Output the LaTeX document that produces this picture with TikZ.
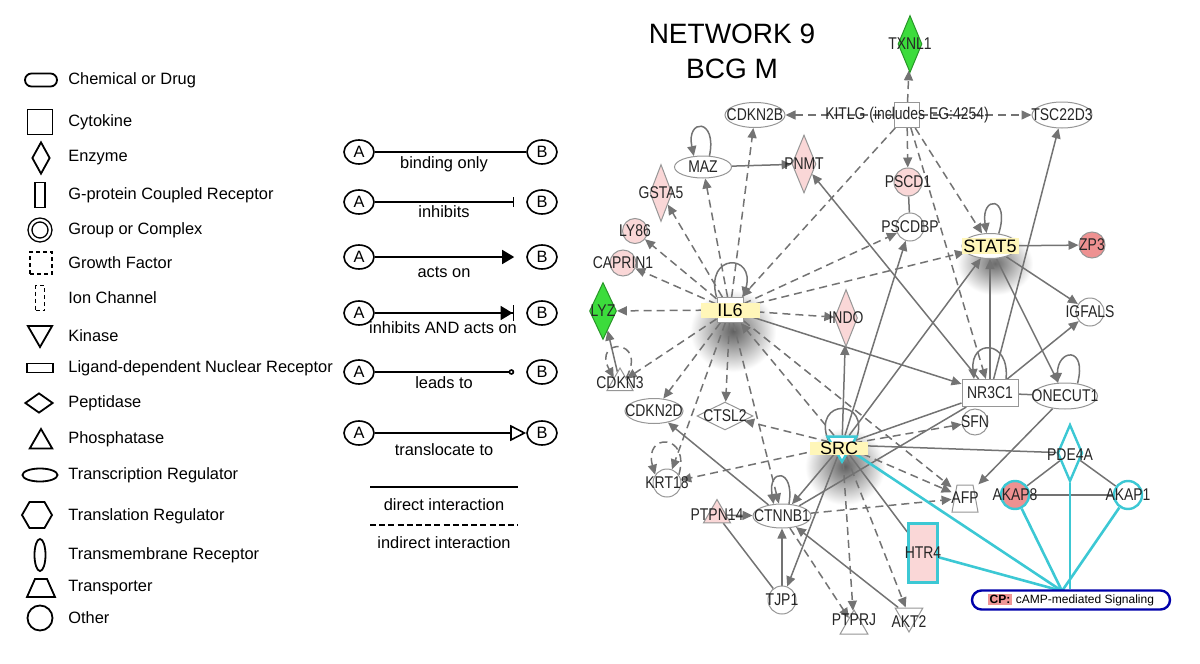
\documentclass[tikz,border=0pt]{standalone}
\usepackage{fontspec}
\setmainfont{Liberation Sans}
\newfontfamily\netfont[FakeStretch=0.82]{Liberation Sans}
\usepackage{tikz}
\usetikzlibrary{shapes.geometric}
\usetikzlibrary{shapes.misc}
\usetikzlibrary{arrows.meta}
\usetikzlibrary{backgrounds}

\definecolor{edgegray}{RGB}{115,115,115}
\definecolor{nodegray}{RGB}{150,150,150}
\definecolor{pinkfill}{RGB}{250,215,215}
\definecolor{redfill}{RGB}{238,145,145}
\definecolor{greenfill}{RGB}{60,220,60}
\definecolor{greenline}{RGB}{40,150,40}
\definecolor{hlyellow}{RGB}{255,246,185}
\definecolor{cpcyan}{RGB}{60,200,212}
\definecolor{cpnavy}{RGB}{0,0,170}
\definecolor{cppink}{RGB}{240,150,150}

\newcommand{\netlbl}{\netfont\fontsize{8.5}{10}\selectfont}
\newcommand{\hllbl}{\fontsize{9}{10}\selectfont}
\newcommand{\keyfont}{\fontsize{8.2}{10}\selectfont}

\tikzstyle{gene} = [draw=nodegray, line width=0.5pt, fill=white, inner sep=0pt]
\tikzstyle{kinase} = [gene, regular polygon, regular polygon sides=3, shape border rotate=180]
\tikzstyle{phos} = [gene, regular polygon, regular polygon sides=3]
\tikzstyle{ind} = [draw=edgegray, line width=0.75pt, dash pattern=on 4pt off 2.5pt, -{Triangle[length=5pt,width=4.5pt]}]
\tikzstyle{dir} = [draw=edgegray, line width=0.75pt, -{Triangle[length=5pt,width=4.5pt]}]
\tikzstyle{bnd} = [draw=edgegray, line width=0.75pt]
\tikzstyle{cpl} = [draw=cpcyan, line width=1.3pt]
\tikzstyle{key} = [draw, line width=0.9pt, inner sep=0pt]
\tikzstyle{keytxt} = [anchor=west, font=\keyfont, inner sep=0pt]
\tikzstyle{ab} = [draw, ellipse, line width=0.8pt, minimum width=15pt, minimum height=12pt, inner sep=0pt, font=\keyfont]
\tikzstyle{kline} = [line width=0.8pt]

\begin{document}
\begin{tikzpicture}[x=0.5pt, y=-0.5pt, every label/.style={font=\netlbl, text=black!85, inner sep=0pt}]
				%\draw[help lines,step=50] (0,0) grid (1200,664);
				\useasboundingbox (0,0) rectangle (1200,664);

				% node types
				\node[key, rounded rectangle, minimum width=16pt, minimum height=6.5pt] (kChem) at (41,80) {};
				\node[keytxt] (tChem) at (68,80) {Chemical or Drug};
				\node[key, minimum width=12.5pt, minimum height=12.5pt] (kCyto) at (40,122) {};
				\node[keytxt] (tCyto) at (68,122) {Cytokine};
				\node[key, diamond, minimum width=9pt, minimum height=16pt] (kEnz) at (41,158) {};
				\node[keytxt] (tEnz) at (68,158) {Enzyme};
				\node[key, minimum width=5pt, minimum height=12.5pt] (kGpcr) at (40,195) {};
				\node[keytxt] (tGpcr) at (68,195) {G-protein Coupled Receptor};
				\node[key, circle, double, line width=0.7pt, double distance=1.2pt, minimum size=10pt] (kGroup) at (40,230) {};
				\node[keytxt] (tGroup) at (68,230) {Group or Complex};
				\node[key, dash pattern=on 2pt off 1.5pt, minimum size=11pt] (kGrowth) at (41,263) {};
				\node[keytxt] (tGrowth) at (68,263) {Growth Factor};
				\node[key, dash pattern=on 2pt off 1.5pt, minimum width=4.5pt, minimum height=12.5pt] (kIon) at (40,298) {};
				\node[keytxt] (tIon) at (68,298) {Ion Channel};
				\node[key, regular polygon, regular polygon sides=3, shape border rotate=180, minimum size=14pt] (kKin) at (40,333) {};
				\node[keytxt] (tKin) at (68,336) {Kinase};
				\node[key, minimum width=13pt, minimum height=4.5pt] (kLig) at (40,368) {};
				\node[keytxt] (tLig) at (68,368) {Ligand-dependent Nuclear Receptor};
				\node[key, diamond, minimum width=14pt, minimum height=10pt] (kPep) at (39,403) {};
				\node[keytxt] (tPep) at (68,403) {Peptidase};
				\node[key, regular polygon, regular polygon sides=3, minimum size=13pt] (kPhos) at (41,442) {};
				\node[keytxt] (tPhos) at (68,439) {Phosphatase};
				\node[key, ellipse, minimum width=17.5pt, minimum height=6.5pt] (kTrans) at (40,475) {};
				\node[keytxt] (tTrans) at (68,475) {Transcription Regulator};
				\node[key, regular polygon, regular polygon sides=6, minimum size=15pt] (kTransl) at (37,515) {};
				\node[keytxt] (tTransl) at (68,516) {Translation Regulator};
				\node[key, ellipse, minimum width=5.5pt, minimum height=16pt] (kTm) at (40,555) {};
				\node[keytxt] (tTm) at (68,555) {Transmembrane Receptor};
				\node[minimum width=14pt, minimum height=9pt, inner sep=0pt] (kPort) at (41,588) {};
				\draw[line width=0.9pt] (27,597) -- (55,597) -- (47,579) -- (35,579) -- cycle;
				\node[keytxt] (tPort) at (68,588) {Transporter};
				\node[key, circle, minimum size=12.5pt] (kOther) at (40,618) {};
				\node[keytxt] (tOther) at (68,618) {Other};

				% relation types
				\node[ab] (a1) at (359,152) {A};
				\node[ab] (b1) at (542,152) {B};
				\draw[kline] (a1) -- (b1);
				\node[font=\keyfont] (l1) at (444,164) {binding only};
				\node[ab] (a2) at (359,202) {A};
				\node[ab] (b2) at (542,202) {B};
				\draw[kline, -{Bar[width=5pt]}, shorten >=6pt] (a2) -- (b2);
				\node[font=\keyfont] (l2) at (444,212) {inhibits};
				\node[ab] (a3) at (359,257) {A};
				\node[ab] (b3) at (542,257) {B};
				\draw[kline, -{Triangle[length=6pt,width=7pt]}, shorten >=6pt] (a3) -- (b3);
				\node[font=\keyfont] (l3) at (444,272) {acts on};
				\node[ab] (a4) at (359,313) {A};
				\node[ab] (b4) at (542,313) {B};
				\draw[kline, -{Triangle[length=6pt,width=7pt] Bar[width=8pt]}, shorten >=6pt] (a4) -- (b4);
				\node[font=\keyfont] (l4) at (443,328) {inhibits AND acts on};
				\node[ab] (a5) at (359,372) {A};
				\node[ab] (b5) at (542,372) {B};
				\draw[kline, -{Circle[open,length=2.8pt]}, shorten >=6pt] (a5) -- (b5);
				\node[font=\keyfont] (l5) at (444,383) {leads to};
				\node[ab] (a6) at (359,433) {A};
				\node[ab] (b6) at (542,433) {B};
				\draw[kline, -{Triangle[open,length=8pt,width=8pt]}] (a6) -- (b6);
				\node[font=\keyfont] (l6) at (444,450) {translocate to};
				\coordinate (d1) at (370,487);
				\coordinate (d2) at (518,487);
				\draw[kline] (d1) -- (d2);
				\node[font=\keyfont] (l7) at (444,505) {direct interaction};
				\coordinate (i1) at (370,525);
				\coordinate (i2) at (518,525);
				\draw[kline, dash pattern=on 3pt off 1.6pt] (i1) -- (i2);
				\node[font=\keyfont] (l8) at (444,543) {indirect interaction};

				% network
				\node[font=\fontsize{14}{17.5}\selectfont, align=center] (title) at (732,51) {NETWORK 9\\BCG M};

				\node[gene, diamond, fill=greenfill, draw=greenline, minimum width=12pt, minimum height=28.5pt, label=center:TXNL1] (txnl1) at (910,44) {};
				\node[gene, minimum size=12.5pt, label={center:{KITLG (includes EG:4254)}}] (kitlg) at (907,115) {};
				\node[gene, ellipse, minimum width=30pt, minimum height=12.5pt, label=center:CDKN2B] (cdkn2b) at (755,115) {};
				\node[gene, ellipse, minimum width=30pt, minimum height=13pt, label=center:TSC22D3] (tsc22d3) at (1062,115) {};
				\node[gene, ellipse, minimum width=28.5pt, minimum height=11pt, label=center:MAZ] (maz) at (703,167) {};
				\node[gene, diamond, fill=pinkfill, minimum width=12pt, minimum height=29pt, label=center:PNMT] (pnmt) at (804,164) {};
				\node[gene, diamond, fill=pinkfill, minimum width=11pt, minimum height=28.5pt, label=center:GSTA5] (gsta5) at (661,193) {};
				\node[gene, circle, fill=pinkfill, minimum size=12.5pt, label=center:LY86] (ly86) at (635,231) {};
				\node[gene, circle, fill=pinkfill, minimum size=13pt, label=center:CAPRIN1] (caprin1) at (623,263) {};
				\node[gene, diamond, fill=greenfill, draw=greenline, minimum width=13.5pt, minimum height=28.5pt, label=center:LYZ] (lyz) at (603,311) {};
				\node[gene, minimum width=13pt, minimum height=12.5pt, label={[fill=hlyellow, font=\hllbl, text=black, minimum width=29.5pt, minimum height=7.5pt]center:IL6}] (il6) at (730,310) {};
				\node[gene, diamond, fill=pinkfill, minimum width=11.5pt, minimum height=28.5pt, label=center:INDO] (indo) at (846,318) {};
				\node[phos, minimum size=15pt, label=center:CDKN3] (cdkn3) at (620,383) {};
				\node[gene, ellipse, minimum width=29pt, minimum height=12.5pt, label=center:CDKN2D] (cdkn2d) at (654,411) {};
				\node[gene, diamond, minimum width=28pt, minimum height=14pt, label=center:CTSL2] (ctsl2) at (725,416) {};
				\node[gene, circle, minimum size=14pt, label=center:KRT18] (krt18) at (667,483) {};
				\node[phos, fill=pinkfill, minimum size=15.5pt, label=center:PTPN14] (ptpn14) at (717,515) {};
				\node[gene, ellipse, minimum width=29pt, minimum height=12pt, label=center:CTNNB1] (ctnnb1) at (782,516) {};
				\node[gene, circle, minimum size=14pt, label=center:TJP1] (tjp1) at (782,600) {};
				\node[phos, minimum size=16pt, label={[yshift=3pt]center:PTPRJ}] (ptprj) at (854,626) {};
				\node[kinase, minimum size=16pt, label={[yshift=-3pt]center:AKT2}] (akt2) at (909,616) {};
				\node[kinase, draw=cpcyan, line width=1.2pt, minimum size=16.7pt, label={[fill=hlyellow, font=\hllbl, text=black, minimum width=29pt, minimum height=6.5pt, xshift=-1.5pt, yshift=-1.5pt]center:SRC}] (src) at (842,445) {};
				\node[gene, fill=pinkfill, draw=cpcyan, line width=1.2pt, minimum width=14.5pt, minimum height=29.5pt, label=center:HTR4] (htr4) at (923,553) {};
				\node[inner sep=0pt, minimum width=13pt, minimum height=13.5pt] (afp) at (965,498) {};
				\draw[draw=nodegray, line width=0.5pt, fill=white] (952,512) -- (978,512) -- (973,485) -- (957,485) -- cycle;
				\node[font=\netlbl, text=black!85, inner sep=0pt] (afptxt) at (965,498) {AFP};
				\node[gene, circle, minimum size=13pt, label=center:SFN] (sfn) at (975,422) {};
				\node[gene, minimum width=28pt, minimum height=13.5pt, label=center:NR3C1] (nr3c1) at (990,393) {};
				\node[gene, ellipse, minimum width=32.5pt, minimum height=13pt, label=center:ONECUT1] (onecut1) at (1065,396) {};
				\node[gene, ellipse, minimum width=28pt, minimum height=12.5pt, label={[fill=hlyellow, font=\hllbl, text=black, minimum width=28.5pt, minimum height=8pt]center:STAT5}] (stat5) at (990,246) {};
				\node[gene, circle, fill=redfill, minimum size=13pt, label=center:ZP3] (zp3) at (1092,245) {};
				\node[gene, circle, minimum size=14pt, label=center:IGFALS] (igfals) at (1090,312) {};
				\node[gene, circle, fill=pinkfill, minimum size=14pt, label=center:PSCD1] (pscd1) at (908,182) {};
				\node[gene, circle, minimum size=14pt, label=center:PSCDBP] (pscdbp) at (910,227) {};
				\node[gene, diamond, draw=cpcyan, line width=1.2pt, minimum width=12.5pt, minimum height=28.5pt, label={[yshift=-1pt]center:PDE4A}] (pde4a) at (1070,453) {};
				\node[gene, circle, fill=redfill, draw=cpcyan, line width=1.2pt, minimum size=14pt, label=center:AKAP8] (akap8) at (1015,495) {};
				\node[gene, circle, draw=cpcyan, line width=1.2pt, minimum size=14pt, label=center:AKAP1] (akap1) at (1128,495) {};
				\node[rounded rectangle, draw=cpnavy, line width=1.2pt, fill=white, minimum width=99pt, minimum height=9.5pt, inner sep=0pt, font=\fontsize{6}{7}\selectfont] (cp) at (1071,600) {\setlength{\fboxsep}{0.8pt}\colorbox{cppink}{\textbf{CP:}}\,\,cAMP-mediated Signaling};
				\coordinate (cphub) at (1062,591);

				\begin{pgfonlayer}{background}
				\shade[inner color=black!62, outer color=white] (690,290) rectangle (776,372);
				\shade[inner color=black!62, outer color=white] (805,428) rectangle (885,505);
				\shade[inner color=black!58, outer color=white] (957,232) rectangle (1033,295);

				% indirect
				\draw[ind] (kitlg) -- (txnl1);
				\draw[ind] (kitlg) -- (cdkn2b);
				\draw[ind] (kitlg) -- (tsc22d3);
				\draw[ind] (kitlg) -- (pscd1);
				\draw[ind] (kitlg) -- (stat5);
				\draw[ind] (kitlg) -- (nr3c1);
				\draw[ind] (kitlg) -- (il6);
				\draw[ind] (il6) -- (maz);
				\draw[ind] (il6) -- (cdkn2b);
				\draw[ind] (il6) -- (gsta5);
				\draw[ind] (il6) -- (ly86);
				\draw[ind] (il6) -- (caprin1);
				\draw[ind] (il6) -- (lyz);
				\draw[ind] (il6) -- (indo);
				\draw[ind] (il6) -- (pscdbp);
				\draw[ind] (il6) -- (stat5);
				\draw[ind] (il6) -- (cdkn3);
				\draw[ind] (il6) -- (cdkn2d);
				\draw[ind] (il6) -- (ctsl2);
				\draw[ind] (il6) -- (krt18);
				\draw[ind] (il6) -- (ctnnb1);
				\draw[ind] (il6) -- (afp);
				\draw[ind] (src) -- (il6);
				\draw[ind] (src) -- (ctsl2);
				\draw[ind] (src) -- (krt18);
				\draw[ind] (src) -- (sfn);
				\draw[ind] (src) -- (afp);
				\draw[ind] (src) -- (ptprj);
				\draw[ind] (src) -- (akt2);
				\draw[ind] (ctnnb1) -- (afp);
				\draw[ind] (ctnnb1) -- (ptprj);
				\draw[ind] (krt18.35) .. controls +(12,-42) and +(-12,-42) .. (krt18.145);
				\draw[ind] (cdkn3.40) .. controls +(22,-40) and +(-22,-40) .. (cdkn3.140);

				% direct
				\draw[dir] (maz) -- (pnmt);
				\draw[dir, {Triangle[length=5pt,width=4.5pt]}-] (pnmt) -- (nr3c1);
				\draw[dir] (il6) -- (nr3c1);
				\draw[dir] (cdkn3) -- (lyz);
				\draw[bnd] (pscd1) -- (pscdbp);
				\draw[dir] (src) -- (pscdbp);
				\draw[dir] (src) -- (stat5);
				\draw[dir] (src) -- (indo);
				\draw[dir] (src) -- (ctnnb1);
				\draw[dir] (src) -- (tjp1);
				\draw[bnd] (src) -- (htr4);
				\draw[bnd] (src) -- (pde4a);
				\draw[bnd] (nr3c1) -- (src);
				\draw[bnd] (nr3c1) -- (ctnnb1);
				\draw[dir] (nr3c1) -- (tsc22d3);
				\draw[dir] (nr3c1) -- (stat5);
				\draw[dir] (nr3c1) -- (igfals);
				\draw[bnd] (nr3c1) -- (onecut1);
				\draw[dir] (stat5) -- (zp3);
				\draw[dir] (stat5) -- (igfals);
				\draw[dir] (stat5) -- (onecut1);
				\draw[dir] (onecut1) -- (afp);
				\draw[dir] (ctnnb1) -- (cdkn2d);
				\draw[dir] (ptpn14) -- (ctnnb1);
				\draw[bnd] (ptpn14) -- (tjp1);
				\draw[dir, {Triangle[length=5pt,width=4.5pt]}-] (ctnnb1) -- (tjp1);
				\draw[dir] (akt2) -- (ctnnb1);
				\draw[bnd] (pde4a) -- (akap8);
				\draw[bnd] (pde4a) -- (akap1);
				\draw[bnd] (akap8) -- (akap1);
				\draw[dir] (maz.60) .. controls +(8,-38) and +(-8,-38) .. (maz.130);
				\draw[dir] (il6.north west) .. controls +(-12,-44) and +(12,-44) .. (il6.north east);
				\draw[bnd] (src.160) .. controls +(-16,-42) and +(16,-42) .. (src.20);
				\draw[dir] (stat5.55) .. controls +(12,-38) and +(-6,-38) .. (stat5.105);
				\draw[dir] ([xshift=8pt]nr3c1.north) .. controls +(4,-40) and +(-4,-40) .. ([xshift=-8pt]nr3c1.north);
				\draw[dir] (onecut1.45) .. controls +(10,-38) and +(0,-34) .. (onecut1.120);
				\draw[dir] (ctnnb1.60) .. controls +(6,-36) and +(-6,-36) .. (ctnnb1.125);

				% cAMP-mediated Signaling
				\draw[cpl] (cphub) -- (src);
				\draw[cpl] (cphub) -- (htr4);
				\draw[cpl] (cphub) -- (akap8);
				\draw[cpl] (cphub) -- (akap1);
				\draw[cpl] (pde4a) -- (pde4a |- cp.north);
				\end{pgfonlayer}
			\end{tikzpicture}
\end{document}
